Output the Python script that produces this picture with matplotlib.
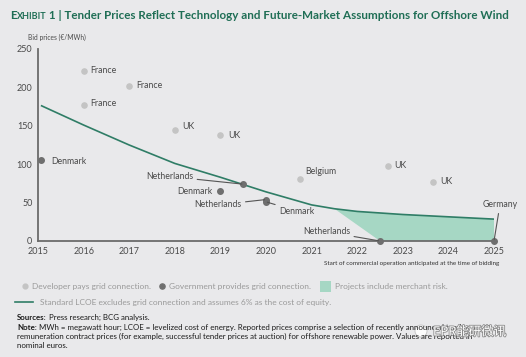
import numpy as np
import matplotlib

matplotlib.use("Agg")
import matplotlib.pyplot as plt
import matplotlib.patheffects as pe
from matplotlib.patches import Rectangle, Circle

# data
dev_years = [2016, 2016, 2017, 2018, 2019, 2020.75, 2022.67, 2023.66]
dev_prices = [222, 177, 202, 144, 138, 81, 98, 77]
dev_labels = ["France", "France", "France", "UK", "UK", "Belgium", "UK", "UK"]

gov_years = [2015.07, 2019.5, 2019.0, 2020.0, 2020.0, 2022.5, 2025.0]
gov_prices = [105, 74, 65, 54, 51, 0, 0]
gov_labels = ["Denmark", "Netherlands", "Denmark", "Netherlands", "Denmark",
              "Netherlands", "Germany"]

lcoe_years = [2015.08, 2016, 2017, 2018, 2019, 2020, 2021, 2021.5, 2022, 2023, 2024, 2025]
lcoe_values = [176, 151, 125, 101, 83, 64, 47, 42, 38.5, 34.5, 31.5, 28.5]

merchant_start = 2021.5
merchant_bottom_years = [2022.5, 2025.0]

x_ticks = list(range(2015, 2026))
y_ticks = [0, 50, 100, 150, 200, 250]

# styling
BG = "#e9e9eb"
LIGHT = "#c4c4c4"
DARK = "#6f6f6f"
TEAL = "#2f7d66"
FILL = "#a6d7c4"
GREEN_TITLE = "#1f6e55"
TXT = "#4a4a4a"
FONT = "Lato"

plt.rcParams["font.family"] = [FONT, "DejaVu Sans"]

W, H = 526, 357
fig = plt.figure(figsize=(W / 100, H / 100), dpi=100)
fig.patch.set_facecolor(BG)

ax = fig.add_axes([38 / W, (H - 241) / H, 456 / W, 192 / H])
ax.set_facecolor(BG)
ax.set_xlim(2015, 2025)
ax.set_ylim(0, 250)
for side in ("top", "right"):
    ax.spines[side].set_visible(False)
for side in ("left", "bottom"):
    ax.spines[side].set_color("#6b6b6b")
    ax.spines[side].set_linewidth(1.3)
ax.set_xticks(x_ticks)
ax.set_yticks(y_ticks)
ax.tick_params(length=0, labelsize=6.5, labelcolor=TXT, pad=4)

# merchant-risk area
fill_x = [merchant_start] + [y for y in lcoe_years if y > merchant_start]
fill_top = list(np.interp(fill_x, lcoe_years, lcoe_values))
poly_x = fill_x + merchant_bottom_years[::-1]
poly_y = fill_top + [0, 0]
ax.fill(poly_x, poly_y, color=FILL, lw=0, zorder=1)

ax.plot(lcoe_years, lcoe_values, color=TEAL, lw=1.2, zorder=2)

ax.scatter(dev_years, dev_prices, s=14, color=LIGHT, zorder=3, clip_on=False)
ax.scatter(gov_years, gov_prices, s=16, color=DARK, zorder=3, clip_on=False)

# labels: offset in points from the point (dx, dy, ha)
dev_offsets = [(5, 0, "left"), (5, 1, "left"), (5, 0, "left"), (5.5, 2.5, "left"),
               (5.5, 0, "left"), (3.5, 5, "left"), (5, 0, "left"), (5, 0, "left")]
for x, y, lab, (dx, dy, ha) in zip(dev_years, dev_prices, dev_labels, dev_offsets):
    ax.annotate(lab, (x, y), xytext=(dx, dy), textcoords="offset points",
                ha=ha, va="center", fontsize=6.3, color=TXT)

# government labels: text position in data coords, and whether to draw a leader
gov_text_pos = [(2015.28, 104, "left", False),
                (2018.40, 84, "right", True),
                (2018.83, 65, "right", False),
                (2019.46, 47, "right", True),
                (2020.29, 39, "left", True),
                (2021.84, 12, "right", True),
                (2025.13, 47, "center", True)]
for x, y, lab, (tx, ty, ha, lead) in zip(gov_years, gov_prices, gov_labels, gov_text_pos):
    arrow = None
    if lead:
        arrow = dict(arrowstyle="-", color="#555555", lw=0.8, shrinkA=1, shrinkB=1)
    ax.annotate(lab, (x, y), xytext=(tx, ty), textcoords="data", ha=ha,
                va="center", fontsize=6.3, color=TXT, arrowprops=arrow,
                annotation_clip=False)

# figure-level overlay in pixel coords
ov = fig.add_axes([0, 0, 1, 1], zorder=5)
ov.set_xlim(0, W)
ov.set_ylim(H, 0)
ov.axis("off")
ov.patch.set_alpha(0)
renderer = fig.canvas.get_renderer()


def run_text(x, y, pieces):
    for s, kw in pieces:
        t = ov.text(x, y, s, va="baseline", ha="left", **kw)
        bb = t.get_window_extent(renderer)
        x += bb.width


title_kw = dict(color=GREEN_TITLE, fontweight="bold")
run_text(10, 19, [("E", dict(fontsize=8.4, **title_kw)),
                  ("XHIBIT", dict(fontsize=6.5, **title_kw)),
                  (" 1 | Tender Prices Reflect Technology and Future-Market "
                   "Assumptions for Offshore Wind", dict(fontsize=8.4, **title_kw))])

ov.text(28, 37, "Bid prices (\u20ac/MWh)", fontsize=4.8, color=TXT, va="center")
ov.text(499, 264, "Start of commercial operation anticipated at the time of bidding",
        fontsize=4.5, color="#333333", ha="right", va="center")

# legend
leg_color = "#9a9a9a"
leg_fs = 6.0
ov.scatter([25], [286], s=12, color=LIGHT)
ov.text(32, 286, "Developer pays grid connection.", fontsize=leg_fs, color=leg_color,
        va="center")
ov.scatter([162], [286], s=14, color=DARK)
ov.text(169, 286, "Government provides grid connection.", fontsize=leg_fs, color=leg_color,
        va="center")
ov.add_patch(Rectangle((320, 281), 11, 11, color=FILL, lw=0))
ov.text(335, 286, "Projects include merchant risk.", fontsize=leg_fs, color=leg_color,
        va="center")
ov.plot([15, 33], [302, 302], color=TEAL, lw=1.2)
ov.text(40, 302, "Standard LCOE excludes grid connection and assumes 6% as the cost of equity.",
        fontsize=leg_fs, color=leg_color, va="center")

# sources and note
note_fs = 5.7
note_kw = dict(fontsize=note_fs, color="#1a1a1a")
bold_kw = dict(fontsize=note_fs, color="#1a1a1a", fontweight="bold")
run_text(17, 320, [("Sources:", bold_kw), (" Press research; BCG analysis.", note_kw)])
run_text(17, 330, [("Note:", bold_kw),
                   (" MWh = megawatt hour; LCOE = levelized cost of energy. Reported prices "
                    "comprise a selection of recently announced tender or", note_kw)])
ov.text(17, 339, "remuneration contract prices (for example, successful tender prices at "
        "auction) for offshore renewable power. Values are reported in", va="baseline", **note_kw)
ov.text(17, 348, "nominal euros.", va="baseline", **note_kw)

# watermark (sits over the note text, as in the reference)
ov.add_patch(Circle((421, 331), 6, facecolor="white", edgecolor="#bbbbbb", lw=0.6, alpha=0.9))
ov.text(433, 332, "EPR能研微讯", fontsize=9, color="white", va="center",
        family=["Noto Sans CJK SC", "DejaVu Sans"],
        path_effects=[pe.withStroke(linewidth=1.2, foreground="#8a8a8a")])

fig.savefig("out.png", dpi=100, facecolor=fig.get_facecolor())
